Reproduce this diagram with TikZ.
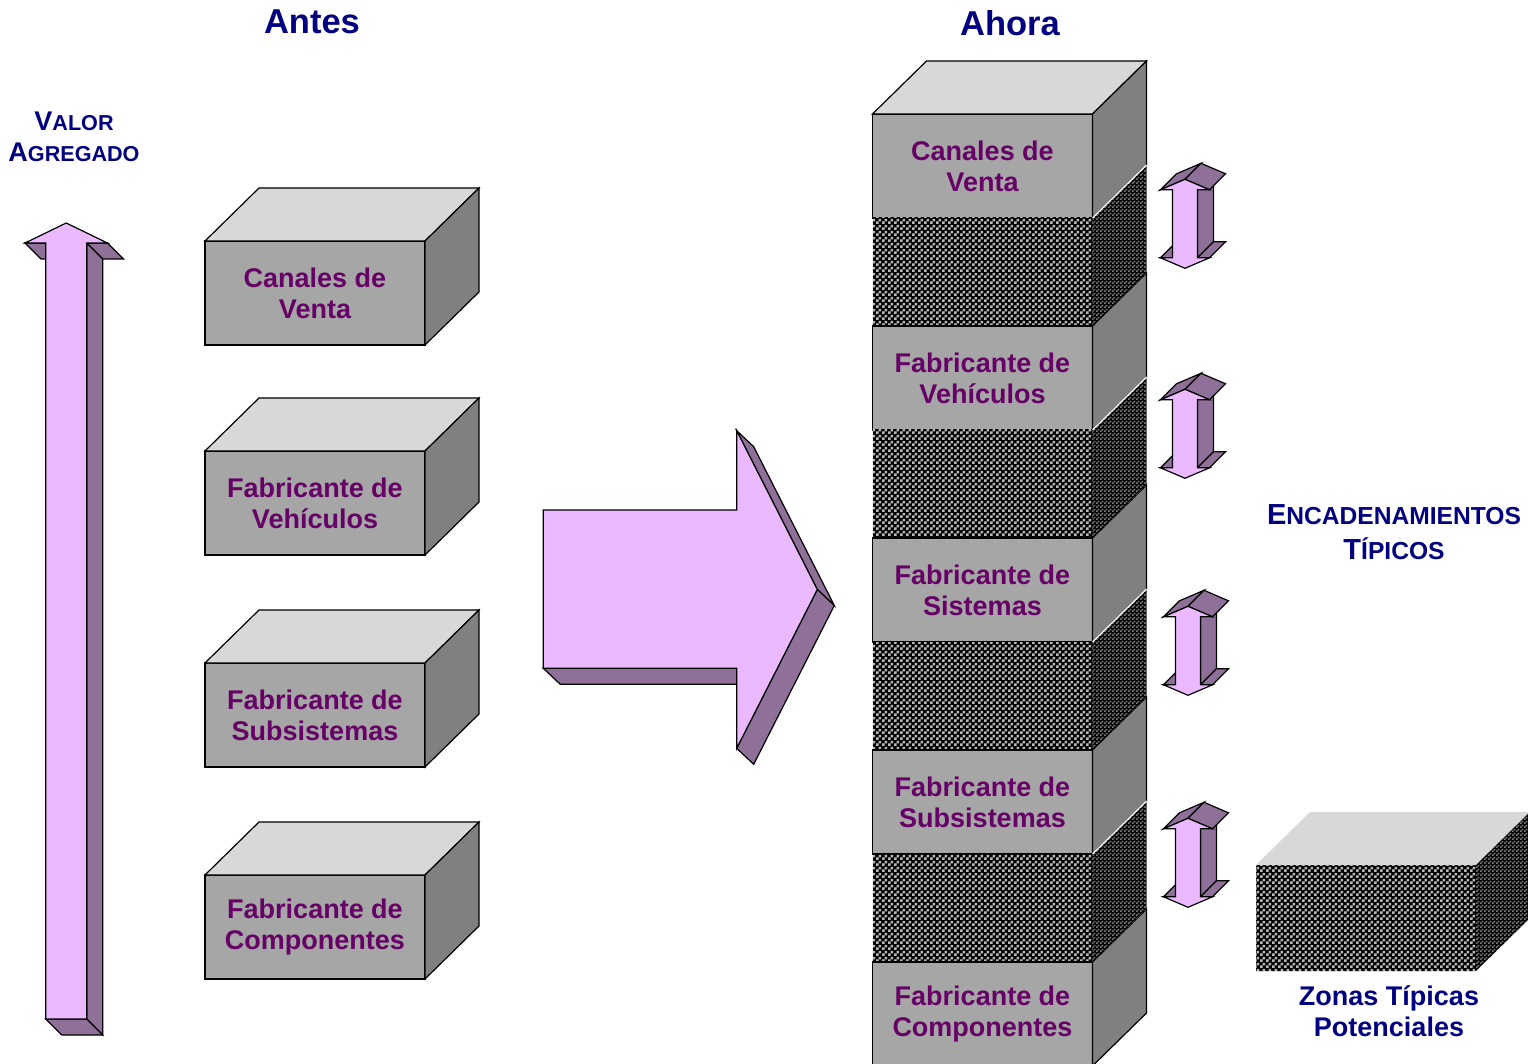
\documentclass[tikz,border=0pt]{standalone}
\usepackage{fontspec}
\setmainfont{Liberation Sans}
\usetikzlibrary{positioning,patterns}

\definecolor{frente}{RGB}{166,166,166}
\definecolor{tapagris}{RGB}{216,216,216}
\definecolor{ladogris}{RGB}{128,128,128}
\definecolor{rosa}{RGB}{235,185,255}
\definecolor{morado}{RGB}{143,112,153}
\definecolor{texto}{RGB}{102,0,102}
\definecolor{azul}{RGB}{0,0,128}
\definecolor{patron}{RGB}{185,185,185}
\definecolor{patronfino}{RGB}{125,125,125}

\pgfdeclarepatternformonly{cuadros}{\pgfqpoint{0pt}{0pt}}{\pgfqpoint{3pt}{3pt}}{\pgfqpoint{3pt}{3pt}}{%
  \pgfpathrectangle{\pgfqpoint{0pt}{0pt}}{\pgfqpoint{1.5pt}{1.5pt}}%
  \pgfpathrectangle{\pgfqpoint{1.5pt}{1.5pt}}{\pgfqpoint{1.5pt}{1.5pt}}%
  \pgfusepath{fill}}
\pgfdeclarepatternformonly{cuadrosfinos}{\pgfqpoint{0pt}{0pt}}{\pgfqpoint{2pt}{2pt}}{\pgfqpoint{2pt}{2pt}}{%
  \pgfpathrectangle{\pgfqpoint{0pt}{0pt}}{\pgfqpoint{1pt}{1pt}}%
  \pgfpathrectangle{\pgfqpoint{1pt}{1pt}}{\pgfqpoint{1pt}{1pt}}%
  \pgfusepath{fill}}

\tikzstyle{caja} = [rectangle, draw, fill=frente, text=texto, align=center,
    font=\bfseries\fontsize{13.5}{15.5}\selectfont,
    minimum width=110pt, minimum height=52pt, inner sep=0pt, outer sep=0pt]
\tikzstyle{zona} = [rectangle, preaction={fill=black}, pattern=cuadros, pattern color=patron,
    minimum width=110pt, minimum height=54pt, inner sep=0pt, outer sep=0pt]
\tikzstyle{tapa} = [draw, fill=tapagris]
\tikzstyle{lado} = [draw, fill=ladogris]
\tikzstyle{ladozona} = [preaction={fill=black}, pattern=cuadrosfinos, pattern color=patronfino]
\tikzstyle{flecha} = [draw, fill=rosa]
\tikzstyle{sombra} = [draw, fill=morado]
\tikzstyle{titulo} = [text=azul, font=\bfseries\fontsize{17.25}{20}\selectfont]
\tikzstyle{etiqueta} = [text=azul, align=center, font=\bfseries\fontsize{13.5}{15.5}\selectfont]
\newcommand{\versalita}[2][10.8]{{\fontsize{#1}{15.5}\selectfont #2}}

\begin{document}
\begin{tikzpicture}[x=0.5pt, y=-0.5pt, line width=0.6pt, line join=miter]
		\useasboundingbox (0,0) rectangle (1528,1064);
		\clip (0,0) rectangle (1528,1064);

		\node [titulo] (antes) at (312,22) {Antes};
		\node [titulo] (ahora) at (1010,23) {Ahora};
		\node [etiqueta] (valor) at (74,137) {V\versalita{ALOR}\\A\versalita{GREGADO}};
		\node [etiqueta, font=\bfseries\fontsize{14.5}{17.5}\selectfont] (encad) at (1394,532)
			{E\versalita[12.3]{NCADENAMIENTOS}\\T\versalita[12.3]{ÍPICOS}};

		\path [sombra] (25,243) -- (45.7,243) -- (61.7,259) -- (41,259) -- cycle;
		\path [sombra] (86.7,243) -- (107.4,243) -- (123.4,259) -- (102.7,259) -- cycle;
		\path [sombra] (86.7,243) -- (102.7,259) -- (102.7,1035) -- (86.7,1019) -- cycle;
		\path [sombra] (45.7,1019) -- (86.7,1019) -- (102.7,1035) -- (61.7,1035) -- cycle;
		\path [flecha] (66.2,223) -- (107.4,243) -- (86.7,243) -- (86.7,1019) -- (45.7,1019)
			-- (45.7,243) -- (25,243) -- cycle;

		\node [caja] (antes1) at (315,293) {Canales de\\Venta};
		\node [caja] (antes2) at (315,503) {Fabricante de\\Vehículos};
		\node [caja] (antes3) at (315,715) {Fabricante de\\Subsistemas};
		\node [caja] (antes4) at (315,927) {Fabricante de\\Componentes};
		\foreach \i in {1,...,4} {
			\path [tapa] (antes\i.north west) -- ++(54,-53) -- ++(220,0) -- (antes\i.north east) -- cycle;
			\path [lado] (antes\i.north east) -- ++(54,-53) -- ([shift={(54,-53)}]antes\i.south east)
				-- (antes\i.south east) -- cycle;
		}

		\path [sombra] (543.3,668.3) -- (736.7,668.3) -- (753.7,684.3) -- (560.3,684.3) -- cycle;
		\path [sombra] (736.7,430.7) -- (817.3,589.5) -- (834.3,605.5) -- (753.7,446.7) -- cycle;
		\path [sombra] (817.3,589.5) -- (736.7,748.3) -- (753.7,764.3) -- (834.3,605.5) -- cycle;
		\path [flecha] (543.3,510) -- (736.7,510) -- (736.7,430.7) -- (817.3,589.5) -- (736.7,748.3)
			-- (736.7,668.3) -- (543.3,668.3) -- cycle;

		\node [caja] (ahora1) at (982.5,166) {Canales de\\Venta};
		\node [zona, below=0pt of ahora1] (enlace1) {};
		\node [caja, below=0pt of enlace1] (ahora2) {Fabricante de\\Vehículos};
		\node [zona, below=0pt of ahora2] (enlace2) {};
		\node [caja, below=0pt of enlace2] (ahora3) {Fabricante de\\Sistemas};
		\node [zona, below=0pt of ahora3] (enlace3) {};
		\node [caja, below=0pt of enlace3] (ahora4) {Fabricante de\\Subsistemas};
		\node [zona, below=0pt of ahora4] (enlace4) {};
		\node [caja, below=0pt of enlace4] (ahora5) {Fabricante de\\Componentes};
		\path [tapa] (ahora1.north west) -- ++(54,-53) -- ++(220,0) -- (ahora1.north east) -- cycle;
		\foreach \i in {1,...,5}
			\path [lado] (ahora\i.north east) -- ++(54,-53) -- ([shift={(54,-53)}]ahora\i.south east)
				-- (ahora\i.south east) -- cycle;
		\foreach \i in {1,...,4} {
			\path [ladozona] (enlace\i.north east) -- ++(54,-53) -- ([shift={(54,-53)}]enlace\i.south east)
				-- (enlace\i.south east) -- cycle;
			\draw [white] (enlace\i.north east) -- ++(54,-53);
		}

		\foreach \cx/\cy in {1185/223.8, 1185/433.8, 1188/650.8, 1188/862.8} {
			\begin{scope}[shift={(\cx,\cy)}]
				\path [sombra] (12.5,-34) -- (12.5,34) -- (28.5,18) -- (28.5,-50) -- cycle;
				\path [sombra] (12.5,34) -- (24.5,34) -- (40.5,18) -- (28.5,18) -- cycle;
				\path [sombra] (-24.5,34) -- (-12.5,34) -- (3.5,18) -- (-8.5,18) -- cycle;
				\path [sombra] (-24.5,-34) -- (0,-44.5) -- (16,-60.5) -- (-8.5,-50) -- cycle;
				\path [sombra] (0,-44.5) -- (24.5,-34) -- (40.5,-50) -- (16,-60.5) -- cycle;
				\path [flecha] (0,-44.5) -- (24.5,-34) -- (12.5,-34) -- (12.5,34) -- (24.5,34) -- (0,44.5)
					-- (-24.5,34) -- (-12.5,34) -- (-12.5,-34) -- (-24.5,-34) -- cycle;
			\end{scope}
		}

		\node [zona, minimum height=53pt] (potencial) at (1366,918) {};
		\path [fill=tapagris] (potencial.north west) -- ++(54,-53) -- ++(220,0) -- (potencial.north east) -- cycle;
		\path [ladozona] (potencial.north east) -- ++(54,-53) -- ([shift={(54,-53)}]potencial.south east)
			-- (potencial.south east) -- cycle;
		\node [etiqueta] (zonas) at (1389,1011) {Zonas Típicas\\Potenciales};
	\end{tikzpicture}
\end{document}
